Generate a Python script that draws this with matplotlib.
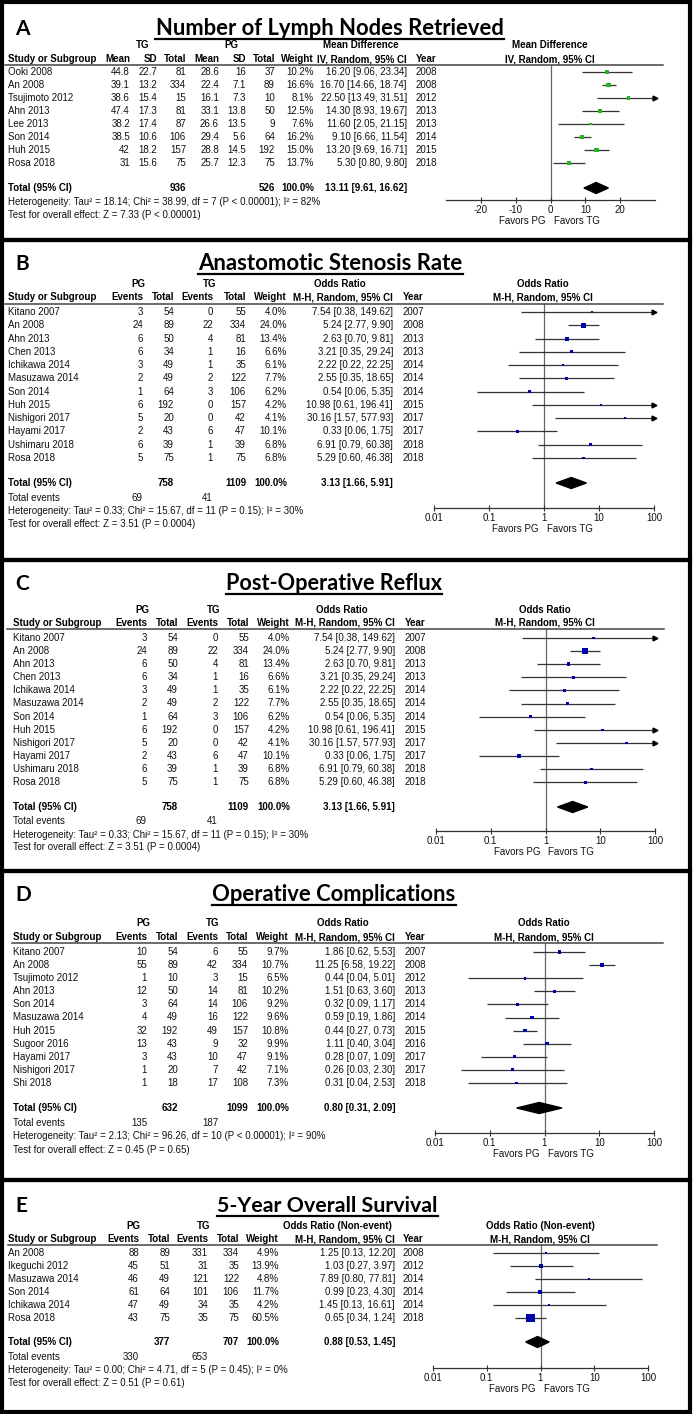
import matplotlib
matplotlib.use('Agg')
import matplotlib.pyplot as plt
import matplotlib.transforms as mtrans
from matplotlib.patches import Rectangle
from matplotlib.lines import Line2D
from matplotlib.ticker import NullLocator
import numpy as np

plt.rcParams['font.family'] = ['Liberation Sans', 'DejaVu Sans']

# ---- A: lymph nodes (mean difference)
a_studies = ["Ooki 2008", "An 2008", "Tsujimoto 2012", "Ahn 2013", "Lee 2013", "Son 2014", "Huh 2015", "Rosa 2018"]
a_tg_mean = [44.8, 39.1, 38.6, 47.4, 38.2, 38.5, 42, 31]
a_tg_sd = [22.7, 13.2, 15.4, 17.3, 17.4, 10.6, 18.2, 15.6]
a_tg_n = [81, 334, 15, 81, 87, 106, 157, 75]
a_pg_mean = [28.6, 22.4, 16.1, 33.1, 26.6, 29.4, 28.8, 25.7]
a_pg_sd = [16, 7.1, 7.3, 13.8, 13.5, 5.6, 14.5, 12.3]
a_pg_n = [37, 89, 10, 50, 9, 64, 192, 75]
a_weight = [10.2, 16.6, 8.1, 12.5, 7.6, 16.2, 15.0, 13.7]
a_md = [16.20, 16.70, 22.50, 14.30, 11.60, 9.10, 13.20, 5.30]
a_lo = [9.06, 14.66, 13.49, 8.93, 2.05, 6.66, 9.69, 0.80]
a_hi = [23.34, 18.74, 31.51, 19.67, 21.15, 11.54, 16.71, 9.80]
a_year = [2008, 2008, 2012, 2013, 2013, 2014, 2015, 2018]
a_total = [13.11, 9.61, 16.62]
a_total_n = [936, 526]
a_het = "Heterogeneity: Tau² = 18.14; Chi² = 38.99, df = 7 (P < 0.00001); I² = 82%"
a_test = "Test for overall effect: Z = 7.33 (P < 0.00001)"
a_ticks = [-20, -10, 0, 10, 20]

# ---- B and C: stenosis / reflux (same table)
b_studies = ["Kitano 2007", "An 2008", "Ahn 2013", "Chen 2013", "Ichikawa 2014", "Masuzawa 2014",
             "Son 2014", "Huh 2015", "Nishigori 2017", "Hayami 2017", "Ushimaru 2018", "Rosa 2018"]
b_pg_ev = [3, 24, 6, 6, 3, 2, 1, 6, 5, 2, 6, 5]
b_pg_tot = [54, 89, 50, 34, 49, 49, 64, 192, 20, 43, 39, 75]
b_tg_ev = [0, 22, 4, 1, 1, 2, 3, 0, 0, 6, 1, 1]
b_tg_tot = [55, 334, 81, 16, 35, 122, 106, 157, 42, 47, 39, 75]
b_weight = [4.0, 24.0, 13.4, 6.6, 6.1, 7.7, 6.2, 4.2, 4.1, 10.1, 6.8, 6.8]
b_or = [7.54, 5.24, 2.63, 3.21, 2.22, 2.55, 0.54, 10.98, 30.16, 0.33, 6.91, 5.29]
b_lo = [0.38, 2.77, 0.70, 0.35, 0.22, 0.35, 0.06, 0.61, 1.57, 0.06, 0.79, 0.60]
b_hi = [149.62, 9.90, 9.81, 29.24, 22.25, 18.65, 5.35, 196.41, 577.93, 1.75, 60.38, 46.38]
b_year = [2007, 2008, 2013, 2013, 2014, 2014, 2014, 2015, 2017, 2017, 2018, 2018]
b_total = [3.13, 1.66, 5.91]
b_total_n = [758, 1109]
b_total_ev = [69, 41]
b_het = "Heterogeneity: Tau² = 0.33; Chi² = 15.67, df = 11 (P = 0.15); I² = 30%"
b_test = "Test for overall effect: Z = 3.51 (P = 0.0004)"

# ---- D: operative complications
d_studies = ["Kitano 2007", "An 2008", "Tsujimoto 2012", "Ahn 2013", "Son 2014", "Masuzawa 2014",
             "Huh 2015", "Sugoor 2016", "Hayami 2017", "Nishigori 2017", "Shi 2018"]
d_pg_ev = [10, 55, 1, 12, 3, 4, 32, 13, 3, 1, 1]
d_pg_tot = [54, 89, 10, 50, 64, 49, 192, 43, 43, 20, 18]
d_tg_ev = [6, 42, 3, 14, 14, 16, 49, 9, 10, 7, 17]
d_tg_tot = [55, 334, 15, 81, 106, 122, 157, 32, 47, 42, 108]
d_weight = [9.7, 10.7, 6.5, 10.2, 9.2, 9.6, 10.8, 9.9, 9.1, 7.1, 7.3]
d_or = [1.86, 11.25, 0.44, 1.51, 0.32, 0.59, 0.44, 1.11, 0.28, 0.26, 0.31]
d_lo = [0.62, 6.58, 0.04, 0.63, 0.09, 0.19, 0.27, 0.40, 0.07, 0.03, 0.04]
d_hi = [5.53, 19.22, 5.01, 3.60, 1.17, 1.86, 0.73, 3.04, 1.09, 2.30, 2.53]
d_year = [2007, 2008, 2012, 2013, 2014, 2014, 2015, 2016, 2017, 2017, 2018]
d_total = [0.80, 0.31, 2.09]
d_total_n = [632, 1099]
d_total_ev = [135, 187]
d_het = "Heterogeneity: Tau² = 2.13; Chi² = 96.26, df = 10 (P < 0.00001); I² = 90%"
d_test = "Test for overall effect: Z = 0.45 (P = 0.65)"

# ---- E: 5-year overall survival
e_studies = ["An 2008", "Ikeguchi 2012", "Masuzawa 2014", "Son 2014", "Ichikawa 2014", "Rosa 2018"]
e_pg_ev = [88, 45, 46, 61, 47, 43]
e_pg_tot = [89, 51, 49, 64, 49, 75]
e_tg_ev = [331, 31, 121, 101, 34, 35]
e_tg_tot = [334, 35, 122, 106, 35, 75]
e_weight = [4.9, 13.9, 4.8, 11.7, 4.2, 60.5]
e_or = [1.25, 1.03, 7.89, 0.99, 1.45, 0.65]
e_lo = [0.13, 0.27, 0.80, 0.23, 0.13, 0.34]
e_hi = [12.20, 3.97, 77.81, 4.30, 16.61, 1.24]
e_year = [2008, 2012, 2014, 2014, 2014, 2018]
e_total = [0.88, 0.53, 1.45]
e_total_n = [377, 707]
e_total_ev = [330, 653]
e_het = "Heterogeneity: Tau² = 0.00; Chi² = 4.71, df = 5 (P = 0.45); I² = 0%"
e_test = "Test for overall effect: Z = 0.51 (P = 0.61)"

log_ticks = [0.01, 0.1, 1, 10, 100]

W, H = 693, 1414
fig = plt.figure(figsize=(W / 100, H / 100), dpi=100)
fig.patch.set_facecolor('white')
renderer = fig.canvas.get_renderer()

FS = 7
TXT = '#111111'


def fx(p):
    return p / W


def fy(p):
    return 1 - p / H


def ftext(x, y, s, **kw):
    kw.setdefault('fontsize', FS)
    kw.setdefault('va', 'center')
    kw.setdefault('color', TXT)
    return fig.text(fx(x), fy(y), s, **kw)


def hline(x0, x1, y, lw=1.1, color='#444444'):
    fig.add_artist(Line2D([fx(x0), fx(x1)], [fy(y), fy(y)], transform=fig.transFigure,
                          lw=lw, color=color))


def title(letter, name, x_left, x_right, base):
    ftext(15, base, letter, fontsize=15, fontweight='bold', family='Lato', va='baseline', color='black')
    cx = (x_left + x_right) / 2
    t = ftext(cx, base, name, fontsize=15, fontweight='bold', family='Lato', va='baseline',
              ha='center', color='black')
    wpx = t.get_window_extent(renderer).width
    t.set_fontsize(15 * (x_right - x_left) / wpx)
    hline(x_left, x_right, base + 3.5, lw=1.6, color='black')


def forest(lay, est, lo, hi, weight, total, color, log):
    x0, x1 = lay['fx']
    ax = fig.add_axes([fx(x0), fy(lay['axis']), (x1 - x0) / W, (lay['axis'] - lay['line']) / H])
    ax.patch.set_alpha(0)
    step = lay['step']
    ax.set_ylim((lay['axis'] - lay['y0']) / step, (lay['line'] - lay['y0']) / step)
    if log:
        ax.set_xscale('log')
        ax.set_xlim(0.01, 100)
        ticks = log_ticks
        null = 1
    else:
        ax.set_xlim(-30, 30)
        ticks = a_ticks
        null = 0
    xmin, xmax = ax.get_xlim()
    rows = np.arange(len(est))
    est, lo, hi, weight = map(np.asarray, (est, lo, hi, weight))
    ax.axvline(null, color='#666666', lw=0.9, zorder=1)
    ax.hlines(rows, np.maximum(lo, xmin), np.minimum(hi, xmax), color='#333333', lw=0.9, zorder=2)
    over = hi > xmax
    ax.plot(np.full(over.sum(), xmax), rows[over], ls='none', marker='>', ms=3.5,
            color='black', clip_on=False, zorder=3)
    ax.scatter(est, rows, s=(0.78 * np.sqrt(weight)) ** 2, marker='s', color=color,
               linewidths=0, zorder=4)
    ty = (lay['total'] - lay['y0']) / step
    dh = 5.5 / step
    t_est, t_lo, t_hi = total
    ax.fill([t_lo, t_est, t_hi, t_est], [ty, ty - dh, ty, ty + dh], color='black', zorder=4)
    for s in ['left', 'right', 'top']:
        ax.spines[s].set_visible(False)
    ax.spines['bottom'].set_color('#333333')
    ax.spines['bottom'].set_linewidth(0.9)
    ax.set_yticks([])
    ax.set_xticks(ticks)
    ax.set_xticklabels([f'{t:g}' for t in ticks], fontsize=FS, color=TXT)
    ax.xaxis.set_minor_locator(NullLocator())
    ax.tick_params(axis='x', direction='inout', length=5, width=0.8, pad=1, color='#333333')
    bt = mtrans.blended_transform_factory(ax.transData, fig.transFigure)
    yf = fy(lay['axis'] + 21)
    ax.text(null, yf, 'Favors PG', transform=mtrans.offset_copy(bt, fig=fig, x=-5, units='dots'),
            ha='right', va='center', fontsize=FS, color=TXT)
    ax.text(null, yf, 'Favors TG', transform=mtrans.offset_copy(bt, fig=fig, x=3, units='dots'),
            ha='left', va='center', fontsize=FS, color=TXT)
    hline(lay['lx'][0], lay['lx'][1], lay['line'])
    return ax


def row_text(ax, x, i, s, **kw):
    bt = mtrans.blended_transform_factory(fig.transFigure, ax.transData)
    kw.setdefault('ha', 'right')
    ax.text(fx(x), i, s, transform=bt, va='center', fontsize=FS, color=TXT, **kw)


def ci_str(v, lo, hi):
    return f'{v:.2f} [{lo:.2f}, {hi:.2f}]'


# ---------------- Panel A
lay_a = dict(h1=45, h2=59, line=65, y0=72, step=13.0, total=188, het=202, test=215, axis=200,
             fx=(446, 655), lx=(5, 663))
title('A', 'Number of Lymph Nodes Retrieved', 155, 504, 35)
ax = forest(lay_a, a_md, a_lo, a_hi, a_weight, a_total, '#22b422', log=False)
B_ = dict(fontweight='bold', color='black')
ftext(143, lay_a['h1'], 'TG', ha='center', **B_)
ftext(231, lay_a['h1'], 'PG', ha='center', **B_)
ftext(361, lay_a['h1'], 'Mean Difference', ha='center', **B_)
ftext(550, lay_a['h1'], 'Mean Difference', ha='center', **B_)
ftext(8, lay_a['h2'], 'Study or Subgroup', ha='left', **B_)
for x, s in [(130, 'Mean'), (157, 'SD'), (186, 'Total'), (219, 'Mean'), (246, 'SD'), (275, 'Total'),
             (314, 'Weight'), (407, 'IV, Random, 95% CI')]:
    ftext(x, lay_a['h2'], s, ha='right', **B_)
ftext(416, lay_a['h2'], 'Year', ha='left', **B_)
ftext(550, lay_a['h2'], 'IV, Random, 95% CI', ha='center', **B_)
for i, name in enumerate(a_studies):
    row_text(ax, 8, i, name, ha='left')
    row_text(ax, 130, i, f'{a_tg_mean[i]:g}')
    row_text(ax, 157, i, f'{a_tg_sd[i]:g}')
    row_text(ax, 186, i, f'{a_tg_n[i]}')
    row_text(ax, 219, i, f'{a_pg_mean[i]:g}')
    row_text(ax, 246, i, f'{a_pg_sd[i]:g}')
    row_text(ax, 275, i, f'{a_pg_n[i]}')
    row_text(ax, 314, i, f'{a_weight[i]:.1f}%')
    row_text(ax, 407, i, ci_str(a_md[i], a_lo[i], a_hi[i]))
    row_text(ax, 416, i, f'{a_year[i]}', ha='left')
ty = lay_a['total']
ftext(8, ty, 'Total (95% CI)', ha='left', **B_)
ftext(186, ty, f'{a_total_n[0]}', ha='right', **B_)
ftext(275, ty, f'{a_total_n[1]}', ha='right', **B_)
ftext(314, ty, '100.0%', ha='right', **B_)
ftext(407, ty, ci_str(*a_total), ha='right', **B_)
ftext(8, lay_a['het'], a_het, ha='left')
ftext(8, lay_a['test'], a_test, ha='left')


# ---------------- dichotomous panels
def dich_panel(letter, name, tx, lay, cols, studies, pg_ev, pg_tot, tg_ev, tg_tot, weight,
               est, lo, hi, years, total, total_n, total_ev, het, test, or_head='Odds Ratio'):
    title(letter, name, tx[0], tx[1], tx[2])
    ax = forest(lay, est, lo, hi, weight, total, '#0000a8', log=True)
    ftext(cols['pg'], lay['h1'], 'PG', ha='center', **B_)
    ftext(cols['tg'], lay['h1'], 'TG', ha='center', **B_)
    ftext(cols['orc'], lay['h1'], or_head, ha='center', **B_)
    ftext(cols['forc'], lay['h1'], or_head, ha='center', **B_)
    ftext(cols['study'], lay['h2'], 'Study or Subgroup', ha='left', **B_)
    for key, s in [('ev1', 'Events'), ('tot1', 'Total'), ('ev2', 'Events'), ('tot2', 'Total'),
                   ('wt', 'Weight'), ('ci', 'M-H, Random, 95% CI')]:
        ftext(cols[key], lay['h2'], s, ha='right', **B_)
    ftext(cols['year'], lay['h2'], 'Year', ha='left', **B_)
    ftext(cols['forc'], lay['h2'], 'M-H, Random, 95% CI', ha='center', **B_)
    for i, nm in enumerate(studies):
        row_text(ax, cols['study'], i, nm, ha='left')
        row_text(ax, cols['ev1'], i, f'{pg_ev[i]}')
        row_text(ax, cols['tot1'], i, f'{pg_tot[i]}')
        row_text(ax, cols['ev2'], i, f'{tg_ev[i]}')
        row_text(ax, cols['tot2'], i, f'{tg_tot[i]}')
        row_text(ax, cols['wt'], i, f'{weight[i]:.1f}%')
        row_text(ax, cols['ci'], i, ci_str(est[i], lo[i], hi[i]))
        row_text(ax, cols['year'], i, f'{years[i]}', ha='left')
    ty = lay['total']
    ftext(cols['study'], ty, 'Total (95% CI)', ha='left', **B_)
    ftext(cols['tot1'], ty, f'{total_n[0]}', ha='right', **B_)
    ftext(cols['tot2'], ty, f'{total_n[1]}', ha='right', **B_)
    ftext(cols['wt'], ty, '100.0%', ha='right', **B_)
    ftext(cols['ci'], ty, ci_str(*total), ha='right', **B_)
    ftext(cols['study'], lay['tev'], 'Total events', ha='left')
    ftext(cols['ev1'], lay['tev'], f'{total_ev[0]}', ha='right')
    ftext(cols['ev2'], lay['tev'], f'{total_ev[1]}', ha='right')
    ftext(cols['study'], lay['het'], het, ha='left')
    ftext(cols['study'], lay['test'], test, ha='left')


lay_b = dict(h1=284, h2=297, line=304, y0=312, step=13.27, total=483, tev=498, het=511, test=524,
             axis=508, fx=(434, 654), lx=(5, 663))
cols_b = dict(study=8, ev1=143, tot1=174, ev2=213, tot2=246, wt=287, ci=393, year=403,
              pg=138, tg=210, orc=340, forc=543)
dich_panel('B', 'Anastomotic Stenosis Rate', (198, 463, 270), lay_b, cols_b, b_studies, b_pg_ev,
           b_pg_tot, b_tg_ev, b_tg_tot, b_weight, b_or, b_lo, b_hi, b_year, b_total, b_total_n,
           b_total_ev, b_het, b_test)

lay_c = dict(h1=610, h2=623, line=629, y0=638, step=13.1, total=807, tev=821, het=835, test=847,
             axis=831, fx=(436, 655), lx=(7, 664))
cols_c = dict(study=13, ev1=147, tot1=178, ev2=218, tot2=249, wt=290, ci=395, year=405,
              pg=142, tg=214, orc=342, forc=545)
dich_panel('C', 'Post-Operative Reflux', (226, 442, 590), lay_c, cols_c, b_studies, b_pg_ev,
           b_pg_tot, b_tg_ev, b_tg_tot, b_weight, b_or, b_lo, b_hi, b_year, b_total, b_total_n,
           b_total_ev, b_het, b_test)

lay_d = dict(h1=923, h2=937, line=943, y0=952, step=13.1, total=1108, tev=1123, het=1136, test=1150,
             axis=1133, fx=(435, 654), lx=(12, 663))
cols_d = dict(study=13, ev1=147, tot1=178, ev2=218, tot2=248, wt=289, ci=395, year=405,
              pg=143, tg=213, orc=343, forc=544)
dich_panel('D', 'Operative Complications', (212, 456, 901), lay_d, cols_d, d_studies, d_pg_ev,
           d_pg_tot, d_tg_ev, d_tg_tot, d_weight, d_or, d_lo, d_hi, d_year, d_total, d_total_n,
           d_total_ev, d_het, d_test)

lay_e = dict(h1=1226, h2=1239, line=1245, y0=1253, step=13.0, total=1342, tev=1357, het=1370,
             test=1383, axis=1368, fx=(433, 648), lx=(8, 657))
cols_e = dict(study=8, ev1=139, tot1=170, ev2=208, tot2=239, wt=279, ci=395, year=403,
              pg=133, tg=204, orc=337, forc=540)
dich_panel('E', '5-Year Overall Survival', (217, 438, 1212), lay_e, cols_e, e_studies, e_pg_ev,
           e_pg_tot, e_tg_ev, e_tg_tot, e_weight, e_or, e_lo, e_hi, e_year, e_total, e_total_n,
           e_total_ev, e_het, e_test, or_head='Odds Ratio (Non-event)')

# panel frames
edges = [2, 240, 559.5, 871, 1180, 1412]
for top, bot in zip(edges[:-1], edges[1:]):
    fig.add_artist(Rectangle((fx(2), fy(bot)), (690 - 2) / W, (bot - top) / H, fill=False,
                             lw=3, edgecolor='black', transform=fig.transFigure))

fig.savefig('out.png', dpi=100, facecolor='white')
